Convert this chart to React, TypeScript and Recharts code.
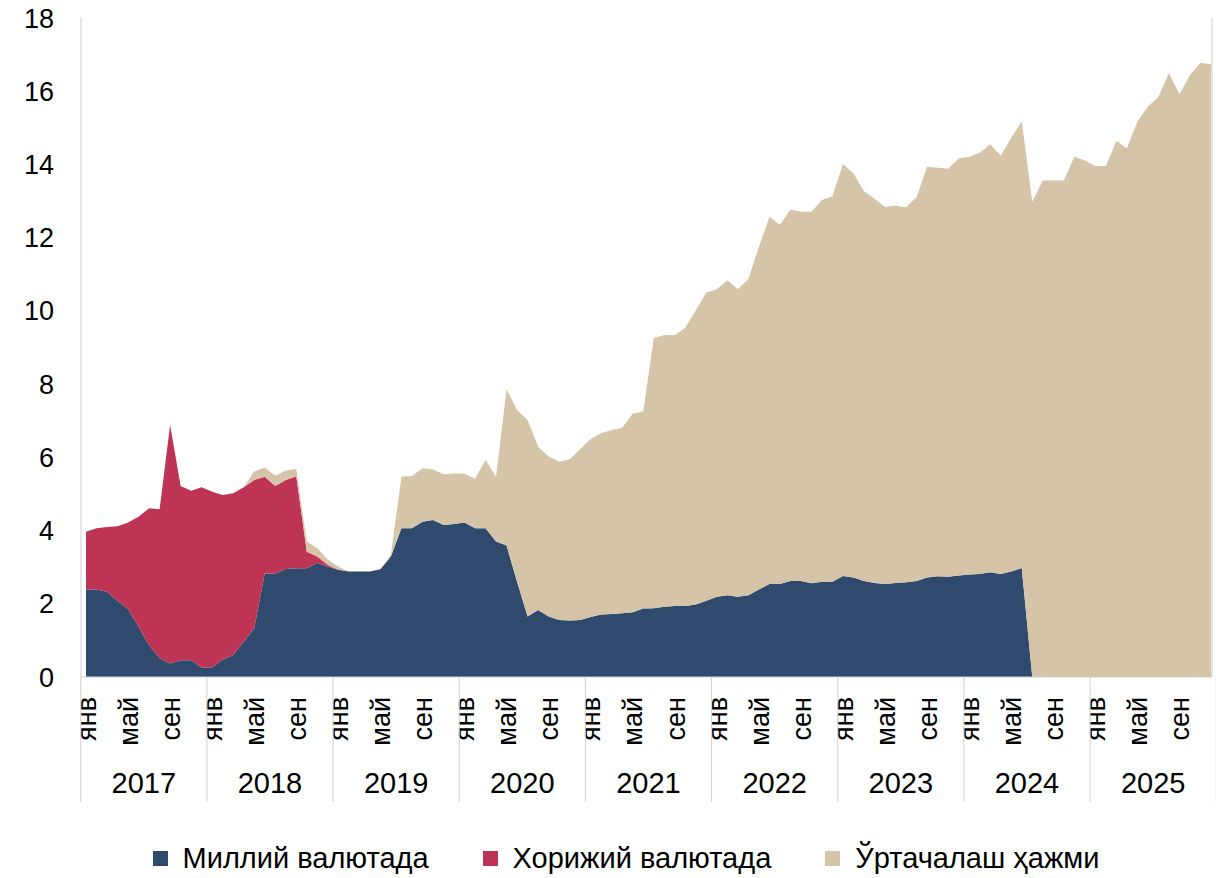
import { AreaChart, Area, XAxis, YAxis, Legend } from "recharts"

const MONTHS = ["янв", "фев", "мар", "апр", "май", "июн", "июл", "авг", "сен", "окт", "ноя", "дек"]
const YEARS = [2017, 2018, 2019, 2020, 2021, 2022, 2023, 2024, 2025]
const SHOWN_MONTHS = [0, 4, 8]
const Y_TICKS = [0, 2, 4, 6, 8, 10, 12, 14, 16, 18]

// Миллий валютада (national currency)
const NATIONAL = [
  2.39, 2.39, 2.33, 2.08, 1.85, 1.37, 0.87, 0.51, 0.37, 0.46, 0.46, 0.26,
  0.26, 0.48, 0.6, 0.96, 1.33, 2.83, 2.83, 2.95, 2.97, 2.97, 3.12, 3.01,
  2.93, 2.88, 2.88, 2.88, 2.94, 3.29, 4.06, 4.06, 4.24, 4.29, 4.15, 4.18,
  4.22, 4.06, 4.06, 3.7, 3.59, 2.6, 1.65, 1.83, 1.65, 1.56, 1.54, 1.56,
  1.64, 1.71, 1.72, 1.74, 1.77, 1.87, 1.88, 1.92, 1.94, 1.94, 1.98, 2.08,
  2.19, 2.23, 2.19, 2.23, 2.39, 2.54, 2.54, 2.62, 2.62, 2.56, 2.6, 2.6,
  2.76, 2.72, 2.62, 2.57, 2.54, 2.57, 2.59, 2.62, 2.72, 2.75, 2.74, 2.77,
  2.8, 2.81, 2.86, 2.81, 2.88, 2.98, 0, 0, 0, 0, 0, 0,
  0, 0, 0, 0, 0, 0, 0, 0, 0, 0, 0, 0,
]

// Хорижий валютада (foreign currency)
const FOREIGN = [
  1.58, 1.67, 1.77, 2.04, 2.37, 3.01, 3.74, 4.07, 6.51, 4.76, 4.63, 4.92,
  4.8, 4.49, 4.42, 4.22, 4.05, 2.64, 2.39, 2.43, 2.51, 0.45, 0.17, 0.05,
  0, 0, 0, 0, 0, 0, 0, 0, 0, 0, 0, 0,
  0, 0, 0, 0, 0, 0, 0, 0, 0, 0, 0, 0,
  0, 0, 0, 0, 0, 0, 0, 0, 0, 0, 0, 0,
  0, 0, 0, 0, 0, 0, 0, 0, 0, 0, 0, 0,
  0, 0, 0, 0, 0, 0, 0, 0, 0, 0, 0, 0,
  0, 0, 0, 0, 0, 0, 0, 0, 0, 0, 0, 0,
  0, 0, 0, 0, 0, 0, 0, 0, 0, 0, 0, 0,
]

// Ўртачалаш ҳажми (weighted volume)
const WEIGHTED = [
  0, 0, 0, 0, 0, 0, 0, 0, 0, 0, 0, 0,
  0, 0, 0, 0, 0.23, 0.25, 0.28, 0.26, 0.2, 0.28, 0.23, 0.15,
  0.08, 0, 0, 0, 0, 0.05, 1.41, 1.43, 1.46, 1.38, 1.39, 1.38,
  1.33, 1.36, 1.87, 1.77, 4.27, 4.69, 5.37, 4.46, 4.37, 4.32, 4.41, 4.66,
  4.86, 4.95, 5.03, 5.07, 5.43, 5.38, 7.37, 7.42, 7.4, 7.6, 8.04, 8.42,
  8.4, 8.61, 8.4, 8.64, 9.36, 10.03, 9.81, 10.15, 10.09, 10.15, 10.43, 10.53,
  11.25, 11.03, 10.65, 10.49, 10.3, 10.3, 10.24, 10.49, 11.22, 11.16, 11.14, 11.39,
  11.41, 11.51, 11.69, 11.43, 11.85, 12.19, 12.98, 13.56, 13.56, 13.56, 14.21, 14.11,
  13.96, 13.96, 14.64, 14.44, 15.17, 15.58, 15.85, 16.49, 15.92, 16.44, 16.78, 16.74,
]

const COLORS = { national: "#304a6e", foreign: "#be3454", weighted: "#d5c4a8" }
const AXIS_GRAY = "#d0d0d0"
const FONT = "'Liberation Sans', Arial, sans-serif"

const W = 1216
const H = 878
const Y_AXIS_W = 81
const RIGHT_W = 4
const PAD_L = 5
const PAD_R = 1
const STEP = (W - Y_AXIS_W - RIGHT_W - PAD_L - PAD_R) / (NATIONAL.length - 1)

const data = NATIONAL.map((v, i) => ({
  label: `${YEARS[Math.floor(i / 12)]}-${MONTHS[i % 12]}`,
  national: v,
  foreign: FOREIGN[i],
  weighted: WEIGHTED[i],
}))

// month labels, year separators and year names under the axis
function MonthTick(props: any) {
  const { x, y, index } = props
  const m = index % 12
  const year = YEARS[Math.floor(index / 12)]
  return (
    <g>
      {SHOWN_MONTHS.includes(m) && (
        <text
          transform={`translate(${x},${y + 20}) rotate(-90)`}
          textAnchor="end"
          dy="0.36em"
          fontSize={27}
          fontFamily={FONT}
          fill="#000"
        >
          {MONTHS[m]}
        </text>
      )}
      {m === 0 && (
        <line x1={x - STEP / 2} x2={x - STEP / 2} y1={y} y2={y + 125} stroke={AXIS_GRAY} />
      )}
      {index === data.length - 1 && (
        <line x1={x + STEP / 2} x2={x + STEP / 2} y1={y} y2={y + 125} stroke={AXIS_GRAY} />
      )}
      {m === 5 && (
        <text x={x + STEP / 2} y={y + 106} textAnchor="middle" dominantBaseline="central" fontSize={29} fontFamily={FONT} fill="#000">
          {year}
        </text>
      )}
    </g>
  )
}

const LEGEND_ITEMS = [
  { key: "national", name: "Миллий валютада" },
  { key: "foreign", name: "Хорижий валютада" },
  { key: "weighted", name: "Ўртачалаш ҳажми" },
]

function LegendRow() {
  return (
    <div
      style={{
        height: 40,
        display: "flex",
        alignItems: "center",
        justifyContent: "center",
        paddingLeft: 36,
        gap: 54,
        fontFamily: FONT,
        fontSize: 29,
        color: "#000",
      }}
    >
      {LEGEND_ITEMS.map((it) => (
        <div key={it.key} style={{ display: "flex", alignItems: "center" }}>
          <span
            style={{
              width: 15,
              height: 15,
              background: COLORS[it.key as keyof typeof COLORS],
              marginRight: 15,
              display: "inline-block",
            }}
          />
          <span>{it.name}</span>
        </div>
      ))}
    </div>
  )
}

export default function App() {
  return (
    <div style={{ position: "absolute", left: 0, top: 0, width: W, height: H, background: "#fff" }}>
      <AreaChart width={W} height={H} data={data} margin={{ top: 18, right: 0, bottom: 0, left: 0 }}>
        <XAxis
          dataKey="label"
          interval={0}
          height={161}
          padding={{ left: PAD_L, right: PAD_R }}
          tickLine={false}
          tickSize={0}
          tickMargin={0}
          stroke={AXIS_GRAY}
          tick={<MonthTick />}
        />
        <XAxis xAxisId="top" dataKey="label" orientation="top" height={0} tick={false} tickLine={false} stroke={AXIS_GRAY} padding={{ left: PAD_L, right: PAD_R }} />
        <YAxis
          domain={[0, 18]}
          ticks={Y_TICKS}
          width={Y_AXIS_W}
          tickLine={false}
          tickSize={0}
          tickMargin={27}
          stroke={AXIS_GRAY}
          tick={{ fontSize: 27, fill: "#000", fontFamily: FONT }}
        />
        <YAxis yAxisId="right" orientation="right" domain={[0, 18]} width={RIGHT_W} tick={false} tickLine={false} stroke={AXIS_GRAY} />
        <Legend verticalAlign="bottom" content={() => <LegendRow />} />
        <Area type="linear" dataKey="national" stackId="a" fill={COLORS.national} stroke="none" fillOpacity={1} isAnimationActive={false} />
        <Area type="linear" dataKey="foreign" stackId="a" fill={COLORS.foreign} stroke="none" fillOpacity={1} isAnimationActive={false} />
        <Area type="linear" dataKey="weighted" stackId="a" fill={COLORS.weighted} stroke="none" fillOpacity={1} isAnimationActive={false} />
      </AreaChart>
    </div>
  )
}
